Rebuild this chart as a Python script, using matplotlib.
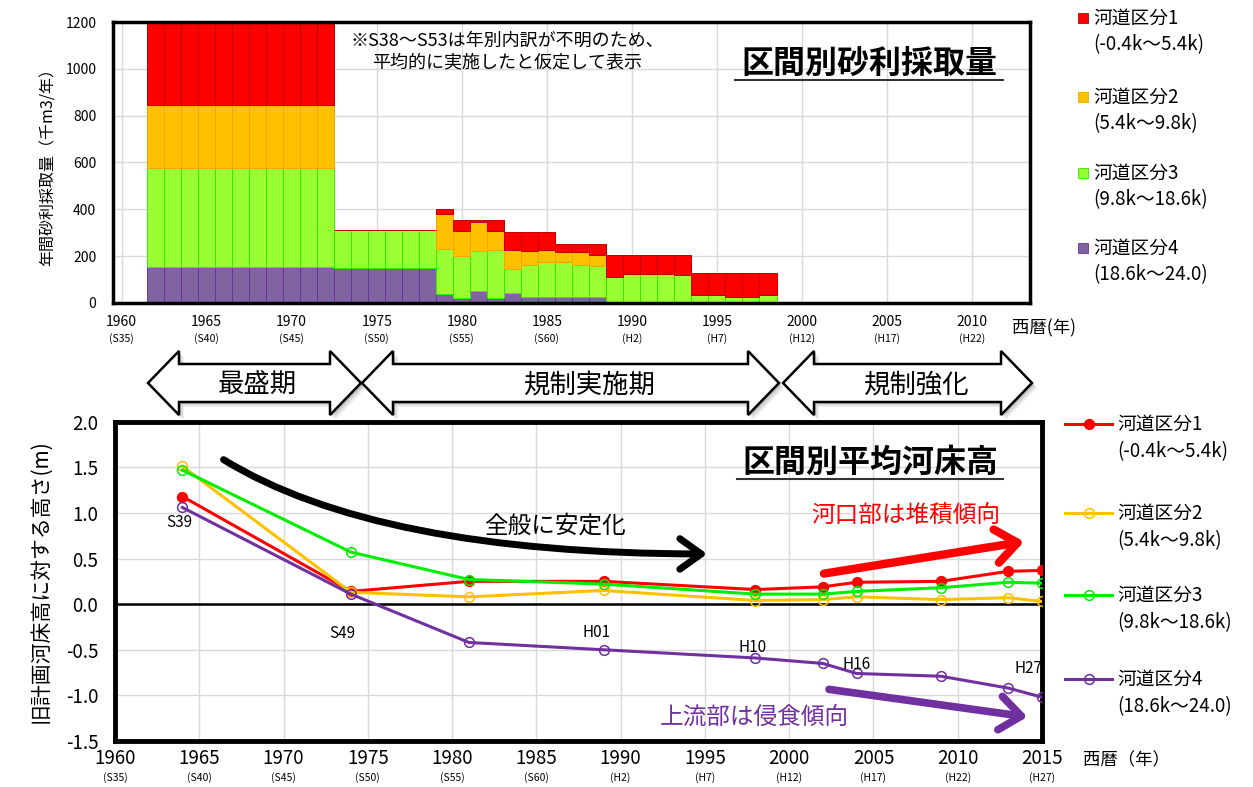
import matplotlib
matplotlib.use("Agg")
import matplotlib.pyplot as plt
from matplotlib.patches import Polygon, Rectangle, FancyArrowPatch
from matplotlib.lines import Line2D

plt.rcParams['font.family'] = ['Noto Sans CJK JP', 'DejaVu Sans']

# ---- top chart data: gravel extraction (thousand m3 / year)
bar_years = [1962, 1963, 1964, 1965, 1966, 1967, 1968, 1969, 1970, 1971, 1972,
             1973, 1974, 1975, 1976, 1977, 1978,
             1979, 1980, 1981, 1982, 1983, 1984, 1985, 1986, 1987, 1988,
             1989, 1990, 1991, 1992, 1993, 1994, 1995, 1996, 1997, 1998]
sec4 = [155, 155, 155, 155, 155, 155, 155, 155, 155, 155, 155,
        150, 150, 150, 150, 150, 150,
        38, 22, 52, 22, 43, 26, 26, 26, 26, 26,
        0, 0, 0, 0, 0, 0, 0, 0, 0, 0]
sec3 = [420, 420, 420, 420, 420, 420, 420, 420, 420, 420, 420,
        160, 160, 160, 160, 160, 160,
        192, 178, 168, 204, 102, 136, 151, 151, 136, 130,
        113, 123, 123, 123, 119, 36, 36, 26, 26, 36]
sec2 = [270, 270, 270, 270, 270, 270, 270, 270, 270, 270, 270,
        0, 0, 0, 0, 0, 0,
        148, 107, 125, 81, 80, 58, 48, 40, 55, 50,
        0, 0, 0, 0, 0, 0, 0, 0, 0, 0]
sec1 = [355, 355, 355, 355, 355, 355, 355, 355, 355, 355, 355,
        0, 0, 0, 0, 0, 0,
        22, 47, 9, 47, 79, 84, 79, 37, 37, 48,
        90, 80, 80, 80, 84, 92, 92, 102, 102, 92]

# ---- bottom chart data: mean riverbed height vs old plan (m)
obs_years = [1964, 1974, 1981, 1989, 1998, 2002, 2004, 2009, 2013, 2015]
h1 = [1.18, 0.14, 0.25, 0.25, 0.16, 0.19, 0.24, 0.25, 0.36, 0.37]
h2 = [1.51, 0.13, 0.08, 0.15, 0.04, 0.05, 0.08, 0.05, 0.07, 0.03]
h3 = [1.47, 0.57, 0.27, 0.22, 0.11, 0.11, 0.14, 0.18, 0.24, 0.23]
h4 = [1.06, 0.11, -0.42, -0.50, -0.59, -0.65, -0.76, -0.79, -0.92, -1.02]

top_ticks = [1960, 1965, 1970, 1975, 1980, 1985, 1990, 1995, 2000, 2005, 2010]
bot_ticks = top_ticks + [2015]
eras = ['(S35)', '(S40)', '(S45)', '(S50)', '(S55)', '(S60)', '(H2)', '(H7)',
        '(H12)', '(H17)', '(H22)', '(H27)']
sec_names = ['河道区分1', '河道区分2', '河道区分3', '河道区分4']
sec_ranges = ['(-0.4k～5.4k)', '(5.4k～9.8k)', '(9.8k～18.6k)', '(18.6k～24.0)']
point_labels = ['S39', 'S49', 'H01', 'H10', 'H16', 'H27']

W, H = 1253, 787
fig = plt.figure(figsize=(W / 100, H / 100), dpi=100)


def fx(x):
    return x / W


def fy(y):
    return 1 - y / H


bar_fc = ['#FF0000', '#FFC000', '#99FF33', '#8064A2']
bar_ec = ['#C00000', '#F0A800', '#33EE00', '#7030A0']
line_c = ['#FF0000', '#FFC000', '#00EE00', '#7030A0']

# ================= top chart
ax1 = fig.add_axes([fx(113), fy(303), (1030 - 113) / W, (303 - 22) / H])
bottom = [0] * len(bar_years)
for vals, fc, ec in zip([sec4, sec3, sec2, sec1], bar_fc[::-1], bar_ec[::-1]):
    ax1.bar(bar_years, vals, width=1.0, bottom=bottom, color=fc,
            edgecolor=ec, linewidth=0.7, zorder=2)
    bottom = [b + v for b, v in zip(bottom, vals)]
ax1.set_xlim(1959.5, 2013.4)
ax1.set_ylim(0, 1200)
ax1.set_yticks(range(0, 1201, 200))
ax1.set_xticks(top_ticks)
ax1.set_xticklabels([str(t) for t in top_ticks], fontsize=10)
ax1.tick_params(length=0, labelsize=10)
ax1.tick_params(axis='x', pad=9)
ax1.tick_params(axis='y', pad=12)
ax1.grid(True, color='#D9D9D9', linewidth=1.0, zorder=0)
ax1.set_axisbelow(True)
for s in ax1.spines.values():
    s.set_linewidth(2.5)
tr1 = ax1.get_xaxis_transform()
for t, e in zip(top_ticks, eras):
    ax1.text(t, -0.125, e, transform=tr1, ha='center', va='center', fontsize=7.5)
ax1.set_ylabel('年間砂利採取量（千m3/年）', fontsize=11.5, labelpad=6)
ax1.text(0.43, 0.895, '※S38～S53は年別内訳が不明のため、\n平均的に実施したと仮定して表示',
         transform=ax1.transAxes, ha='center', va='center', fontsize=13,
         linespacing=1.2)
fig.text(fx(869), fy(64), '区間別砂利採取量', ha='center', va='center',
         fontsize=23, fontweight='bold')
fig.add_artist(Line2D([fx(735), fx(1003)], [fy(80), fy(80)], color='#333333', lw=1.5))
fig.text(fx(1012), fy(328), '西暦(年)', ha='left', va='center', fontsize=12.5)

# top legend
for i, (fc, ec) in enumerate(zip(bar_fc, bar_ec)):
    y0 = [18, 97, 173, 248][i]
    fig.add_artist(Rectangle((fx(1078), fy(y0 + 5)), 10 / W, 10 / H,
                             facecolor=fc, edgecolor=ec, lw=0.6))
    fig.text(fx(1093), fy(y0), sec_names[i], ha='left', va='center', fontsize=13.5)
    fig.text(fx(1093), fy(y0 + 27), sec_ranges[i], ha='left', va='center', fontsize=13.5)

# ================= period arrows


def block_arrow(x0, x1, yc, label, tx, head=31, sh=38, hh=64):
    pts = [(x0, yc), (x0 + head, yc - hh / 2), (x0 + head, yc - sh / 2),
           (x1 - head, yc - sh / 2), (x1 - head, yc - hh / 2), (x1, yc),
           (x1 - head, yc + hh / 2), (x1 - head, yc + sh / 2),
           (x0 + head, yc + sh / 2), (x0 + head, yc + hh / 2)]
    for k, a in [(5, 0.12), (3.5, 0.18), (2, 0.25)]:
        fig.add_artist(Polygon([(fx(x + k), fy(y + k)) for x, y in pts],
                               closed=True, facecolor='#777777', edgecolor='none',
                               alpha=a))
    fig.add_artist(Polygon([(fx(x), fy(y)) for x, y in pts], closed=True,
                           facecolor='white', edgecolor='black', lw=1.8))
    fig.text(fx(tx), fy(yc + 2), label, ha='center', va='center', fontsize=19)


block_arrow(148, 361, 383, '最盛期', 257)
block_arrow(362, 779, 383, '規制実施期', 590)
block_arrow(783, 1032, 383, '規制強化', 917)

# ================= bottom chart
ax2 = fig.add_axes([fx(115), fy(741), (1042 - 115) / W, (741 - 421.7) / H])
styles = [dict(marker='o', mfc=line_c[0], mec=line_c[0]),
          dict(marker='o', mfc='none', mec=line_c[1]),
          dict(marker='o', mfc='none', mec=line_c[2]),
          dict(marker='o', mfc='none', mec=line_c[3])]
for idx in [3, 1, 2, 0]:
    ax2.plot(obs_years, [h1, h2, h3, h4][idx], color=line_c[idx], lw=2.2,
             ms=7, mew=1.1, zorder=4 + idx, **styles[idx])
ax2.axhline(0, color='black', lw=1.8, zorder=3)
ax2.set_xlim(1960, 2015)
ax2.set_ylim(-1.5, 2.0)
ax2.set_xticks(bot_ticks)
ax2.set_xticklabels([str(t) for t in bot_ticks], fontsize=13.5)
ax2.set_yticks([-1.5, -1.0, -0.5, 0.0, 0.5, 1.0, 1.5, 2.0])
ax2.set_yticklabels(['-1.5', '-1.0', '-0.5', '0.0', '0.5', '1.0', '1.5', '2.0'],
                    fontsize=13.5)
ax2.tick_params(length=0)
ax2.tick_params(axis='x', pad=5)
ax2.tick_params(axis='y', pad=12)
ax2.grid(True, color='#D9D9D9', linewidth=1.0, zorder=0)
ax2.set_axisbelow(True)
for s in ax2.spines.values():
    s.set_linewidth(3.5)
tr2 = ax2.get_xaxis_transform()
for t, e in zip(bot_ticks, eras):
    ax2.text(t, -0.113, e, transform=tr2, ha='center', va='center', fontsize=7.5)
ax2.set_ylabel('旧計画河床高に対する高さ(m)', fontsize=15, labelpad=10)

# point labels
label_pos = [(1963.8, 0.89), (1973.5, -0.32), (1988.6, -0.31), (1997.8, -0.48),
             (2004.0, -0.66), (2014.2, -0.71)]
for txt, (x, y) in zip(point_labels, label_pos):
    ax2.text(x, y, txt, ha='center', va='center', fontsize=11, zorder=9)

# trend arrows
ax2.add_patch(FancyArrowPatch((1966.3, 1.60), (1995.3, 0.55),
                              connectionstyle='angle3,angleA=-32,angleB=0',
                              arrowstyle='->,head_length=0.7,head_width=0.5',
                              mutation_scale=22, lw=5, color='black', zorder=8))
ax2.text(1986.1, 0.86, '全般に安定化', ha='center', va='center', fontsize=17, zorder=9)
ax2.add_patch(FancyArrowPatch((2001.9, 0.33), (2014.1, 0.69),
                              arrowstyle='->,head_length=0.7,head_width=0.55',
                              mutation_scale=22, lw=6, color='#FF0000', zorder=8))
ax2.text(2006.9, 0.97, '河口部は堆積傾向', ha='center', va='center', fontsize=17,
         color='#FF0000', zorder=9)
ax2.add_patch(FancyArrowPatch((2002.2, -0.93), (2014.3, -1.24),
                              arrowstyle='->,head_length=0.7,head_width=0.55',
                              mutation_scale=22, lw=5.5, color='#7030A0', zorder=8))
ax2.text(1997.9, -1.25, '上流部は侵食傾向', ha='center', va='center', fontsize=17,
         color='#7030A0', zorder=9)

fig.text(fx(870), fy(463), '区間別平均河床高', ha='center', va='center',
         fontsize=23, fontweight='bold')
fig.add_artist(Line2D([fx(737), fx(1003)], [fy(479), fy(479)], color='#333333', lw=1.5))
fig.text(fx(1083), fy(760), '西暦（年）', ha='left', va='center', fontsize=12.5)

# bottom legend
for i in range(4):
    y0 = [424, 513, 595, 679][i]
    fig.add_artist(Line2D([fx(1065), fx(1089), fx(1112)], [fy(y0), fy(y0), fy(y0)],
                          color=line_c[i], lw=2.2, marker='o', markevery=[1],
                          ms=7, mew=1.1, mfc=styles[i]['mfc'], mec=line_c[i]))
    fig.text(fx(1117), fy(y0), sec_names[i], ha='left', va='center', fontsize=13.5)
    fig.text(fx(1117), fy(y0 + 28), sec_ranges[i], ha='left', va='center', fontsize=13.5)

fig.savefig('out.png', dpi=100)
